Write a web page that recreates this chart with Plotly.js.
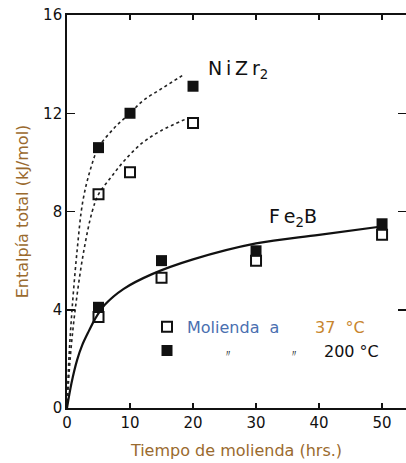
<!DOCTYPE html>
<html>
<head>
<meta charset="utf-8">
<script src="https://cdn.plot.ly/plotly-3.0.1.min.js"></script>
<style>html,body{margin:0;padding:0;background:#fff;}#chart{width:406px;height:463px;}</style>
</head>
<body>
<div id="chart"></div>
<script>
// Measured points (hours, kJ/mol)
const niZrTime = [5, 10, 20];
const niZr200 = [10.6, 12.0, 13.1];
const niZr37 = [8.7, 9.6, 11.6];
const fe2bTime = [5, 15, 30, 50];
const fe2b200 = [4.1, 6.0, 6.4, 7.5];
const fe2b37 = [3.7, 5.3, 6.0, 7.05];

// Hand-drawn trend curves
const niUpperX = [0, 0.3, 0.8, 1.6, 2.5, 3.7, 5, 7.5, 10, 12, 15, 18.7];
const niUpperY = [0, 2, 4, 6.4, 8.4, 9.7, 10.6, 11.4, 12.0, 12.5, 13.0, 13.6];
const niLowerX = [0, 0.5, 1.3, 2.6, 4, 5, 7, 9.2, 12, 15, 19.2];
const niLowerY = [0, 2, 4, 6.3, 8.0, 8.7, 9.4, 10.1, 10.8, 11.3, 11.8];
const feCurveX = [0, 0.7, 1.6, 2.4, 3.5, 4.4, 6, 9, 13.5, 20, 30, 40, 50.2];
const feCurveY = [0, 1.0, 1.95, 2.55, 3.15, 3.6, 4.2, 4.85, 5.45, 6.05, 6.7, 7.05, 7.4];

const xTicks = [0, 10, 20, 30, 40, 50];
const yTicks = [0, 4, 8, 12, 16];

const FONT = 'DejaVu Sans, Verdana, sans-serif';
const NB = '\u00a0';
const TH = '\u2009';
const sp = n => NB.repeat(n);
const ditto = "<span style='font-size:10px;color:#111'>〃</span>";
const openMarker = {symbol: 'square-open', size: 10, color: '#111', line: {width: 2, color: '#111'}};
const fillMarker = {symbol: 'square', size: 11, color: '#111'};

const traces = [
  {x: niUpperX, y: niUpperY, mode: 'lines', line: {color: '#222', width: 1.6, dash: 'dot', shape: 'spline'}, showlegend: false, hoverinfo: 'skip'},
  {x: niLowerX, y: niLowerY, mode: 'lines', line: {color: '#222', width: 1.6, dash: 'dot', shape: 'spline'}, showlegend: false, hoverinfo: 'skip'},
  {x: feCurveX, y: feCurveY, mode: 'lines', line: {color: '#111', width: 2.2, shape: 'spline'}, showlegend: false, hoverinfo: 'skip'},
  {x: niZrTime, y: niZr37, mode: 'markers', marker: openMarker, showlegend: true, legendrank: 1,
   name: "<span style='color:#4a6fb0'>Molienda" + sp(2) + "a</span>" + sp(7) + "<span style='color:#c8862e'>37" + sp(2) + "°C</span>"},
  {x: niZrTime, y: niZr200, mode: 'markers', marker: fillMarker, showlegend: true, legendrank: 2,
   name: sp(7) + ditto + sp(11) + ditto + sp(5) + "200" + sp(1) + "°C"},
  {x: fe2bTime, y: fe2b37, mode: 'markers', marker: openMarker, showlegend: false},
  {x: fe2bTime, y: fe2b200, mode: 'markers', marker: fillMarker, showlegend: false}
];

const layout = {
  width: 406, height: 463,
  margin: {l: 67, r: 0, t: 15, b: 55},
  paper_bgcolor: '#fff', plot_bgcolor: '#fff',
  font: {family: FONT, color: '#111', size: 14},
  showlegend: true,
  legend: {x: 0.236, y: 0.25, xanchor: 'left', yanchor: 'top', bgcolor: 'rgba(0,0,0,0)',
           font: {family: FONT, size: 16, color: '#111'}, traceorder: 'normal', itemwidth: 30, tracegroupgap: 0},
  xaxis: {
    range: [0, 53.8], tickvals: xTicks, ticktext: xTicks.map(String),
    ticks: 'inside', ticklen: 5, tickwidth: 1.5, tickcolor: '#111',
    showline: true, linewidth: 1.8, linecolor: '#111', mirror: 'ticks',
    showgrid: false, zeroline: false,
    tickfont: {family: FONT, size: 15, color: '#111'},
    title: {text: 'Tiempo de molienda (hrs.)', standoff: 14, font: {family: FONT, size: 16, color: '#9a6a2e'}}
  },
  yaxis: {
    range: [0, 16], tickvals: yTicks, ticktext: yTicks.map(String),
    ticks: 'inside', ticklen: 8, tickwidth: 1.5, tickcolor: '#111',
    showline: true, linewidth: 1.8, linecolor: '#111', mirror: 'ticks',
    showgrid: false, zeroline: false,
    tickfont: {family: FONT, size: 15, color: '#111'},
    title: {text: 'Entalpía total (kJ/mol)', standoff: 10, font: {family: FONT, size: 16, color: '#9a6a2e'}}
  },
  annotations: [
    {text: 'N' + TH + 'i' + TH + 'Z' + TH + 'r<sub>2</sub>', xref: 'paper', yref: 'paper', x: 0.41, y: 0.862, xanchor: 'left', yanchor: 'middle', showarrow: false, font: {family: FONT, size: 19, color: '#111'}},
    {text: 'F' + TH + 'e<sub>2</sub>B', xref: 'paper', yref: 'paper', x: 0.59, y: 0.485, xanchor: 'left', yanchor: 'middle', showarrow: false, font: {family: FONT, size: 19, color: '#111'}}
  ]
};

Plotly.newPlot('chart', traces, layout, {staticPlot: true, displayModeBar: false});
</script>
</body>
</html>
